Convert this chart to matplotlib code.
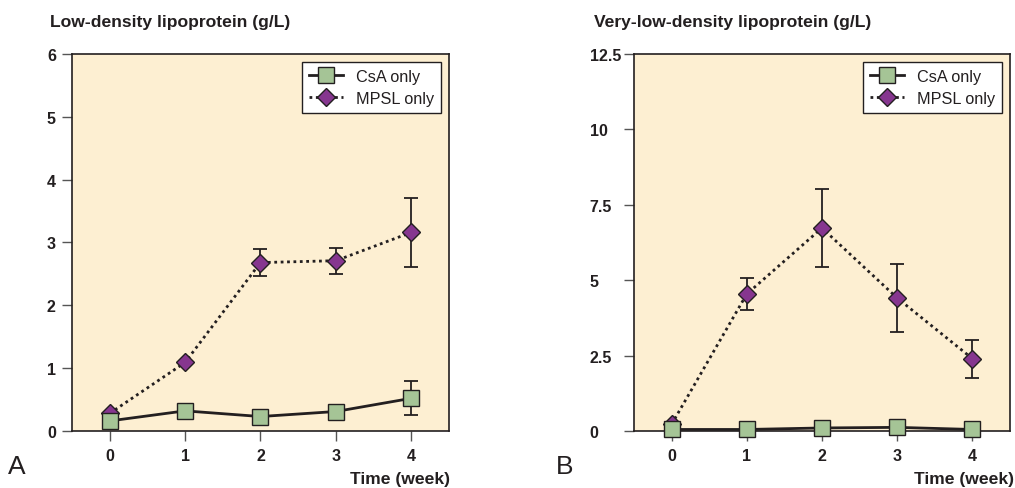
import matplotlib
matplotlib.use("Agg")
import matplotlib.pyplot as plt
from matplotlib.lines import Line2D

plt.rcParams['font.family'] = ['Liberation Sans', 'DejaVu Sans']

weeks = [0, 1, 2, 3, 4]

# Panel A: LDL (g/L)
ldl_csa = [0.16, 0.32, 0.23, 0.31, 0.52]
ldl_csa_err = [0, 0, 0, 0, 0.27]
ldl_mpsl = [0.28, 1.09, 2.68, 2.71, 3.16]
ldl_mpsl_err = [0, 0, 0.21, 0.21, 0.55]
ldl_yticks = [0, 1, 2, 3, 4, 5, 6]
ldl_yticklabels = ['0', '1', '2', '3', '4', '5', '6']

# Panel B: VLDL (g/L)
vldl_csa = [0.05, 0.05, 0.10, 0.12, 0.05]
vldl_csa_err = [0, 0, 0, 0, 0]
vldl_mpsl = [0.22, 4.54, 6.73, 4.41, 2.40]
vldl_mpsl_err = [0, 0.54, 1.28, 1.14, 0.63]
vldl_yticks = [0, 2.5, 5, 7.5, 10, 12.5]
vldl_yticklabels = ['0', '2.5', '5', '7.5', '10', '12.5']

titles = ['Low-density lipoprotein (g/L)', 'Very-low-density lipoprotein (g/L)']
panel_letters = ['A', 'B']
series_labels = ['CsA only', 'MPSL only']
xlabel = 'Time (week)'

BG = '#fdefd2'
INK = '#231f20'
GREEN = '#a5c496'
PURPLE = '#86368f'

fig = plt.figure(figsize=(10.15, 4.89), dpi=100)

panels = [
    dict(rect=[0.0709, 0.1166, 0.3714, 0.7710], csa=ldl_csa, csae=ldl_csa_err,
         mpsl=ldl_mpsl, mpsle=ldl_mpsl_err, yt=ldl_yticks, ytl=ldl_yticklabels,
         ylim=(0, 6), pad=11),
    dict(rect=[0.6246, 0.1166, 0.3704, 0.7710], csa=vldl_csa, csae=vldl_csa_err,
         mpsl=vldl_mpsl, mpsle=vldl_mpsl_err, yt=vldl_yticks, ytl=vldl_yticklabels,
         ylim=(0, 12.5), pad=25),
]

for i, p in enumerate(panels):
    ax = fig.add_axes(p['rect'])
    ax.set_facecolor(BG)
    # MPSL series
    ax.errorbar(weeks, p['mpsl'], yerr=p['mpsle'], fmt='none', ecolor=INK,
                elinewidth=1.3, capsize=4.7, capthick=1.3, zorder=2)
    ax.plot(weeks, p['mpsl'], linestyle=(0, (1, 1.3)), color=INK, linewidth=2.0,
            marker='D', markersize=9.0, markerfacecolor=PURPLE,
            markeredgecolor=INK, markeredgewidth=1.0, zorder=3)
    # CsA series
    ax.errorbar(weeks, p['csa'], yerr=p['csae'], fmt='none', ecolor=INK,
                elinewidth=1.3, capsize=4.7, capthick=1.3, zorder=4)
    ax.plot(weeks, p['csa'], linestyle='-', color=INK, linewidth=2.0,
            marker='s', markersize=11.5, markerfacecolor=GREEN,
            markeredgecolor=INK, markeredgewidth=1.0, zorder=5)

    ax.set_xlim(-0.5, 4.5)
    ax.set_ylim(*p['ylim'])
    ax.set_xticks(weeks)
    ax.set_xticklabels([str(w) for w in weeks])
    ax.set_yticks(p['yt'])
    ax.set_yticklabels(p['ytl'])
    for s in ax.spines.values():
        s.set_color(INK)
        s.set_linewidth(1.2)
    ax.tick_params(axis='x', direction='out', length=7, width=1, color='#555555',
                   pad=5, labelsize=11.5, labelcolor=INK)
    ax.tick_params(axis='y', direction='out', length=7, width=1, color='#555555',
                   pad=p['pad'], labelsize=11.5, labelcolor=INK)
    for lab in ax.get_yticklabels():
        lab.set_horizontalalignment('left')
        lab.set_fontweight('bold')
    for lab in ax.get_xticklabels():
        lab.set_fontweight('bold')
    for art in ax.lines:
        art.set_clip_on(False)
    for coll in ax.collections:
        coll.set_clip_on(False)

    handles = [
        Line2D([], [], linestyle='-', color=INK, linewidth=2.0, marker='s',
               markersize=11.5, markerfacecolor=GREEN, markeredgecolor=INK, markeredgewidth=1.0),
        Line2D([], [], linestyle=(0, (1, 1.3)), color=INK, linewidth=2.0, marker='D',
               markersize=9.0, markerfacecolor=PURPLE, markeredgecolor=INK, markeredgewidth=1.0),
    ]
    leg = ax.legend(handles, series_labels, loc='upper right', bbox_to_anchor=(0.98, 0.98),
                    borderaxespad=0, frameon=True, fancybox=False, fontsize=11.7,
                    handlelength=2.1, handletextpad=0.8, labelspacing=0.45,
                    borderpad=0.45, framealpha=1, edgecolor=INK, facecolor='white')
    leg.get_frame().set_linewidth(1.0)
    for t in leg.get_texts():
        t.set_color(INK)

    x0 = p['rect'][0]
    x1 = p['rect'][0] + p['rect'][2]
    fig.text(x0 - 22 / 1015 if i == 0 else x0 - 40 / 1015, 1 - 23 / 489, titles[i],
             ha='left', va='center', fontsize=12.6, fontweight='bold', color=INK)
    fig.text(x1 + (1 / 1015 if i == 0 else 4 / 1015), 1 - 480 / 489, xlabel,
             ha='right', va='center', fontsize=12.6, fontweight='bold', color=INK)
    fig.text((8 if i == 0 else 556) / 1015, 1 - 467 / 489, panel_letters[i],
             ha='left', va='center', fontsize=19, color=INK)

fig.savefig('out.png', dpi=100, facecolor='white')
